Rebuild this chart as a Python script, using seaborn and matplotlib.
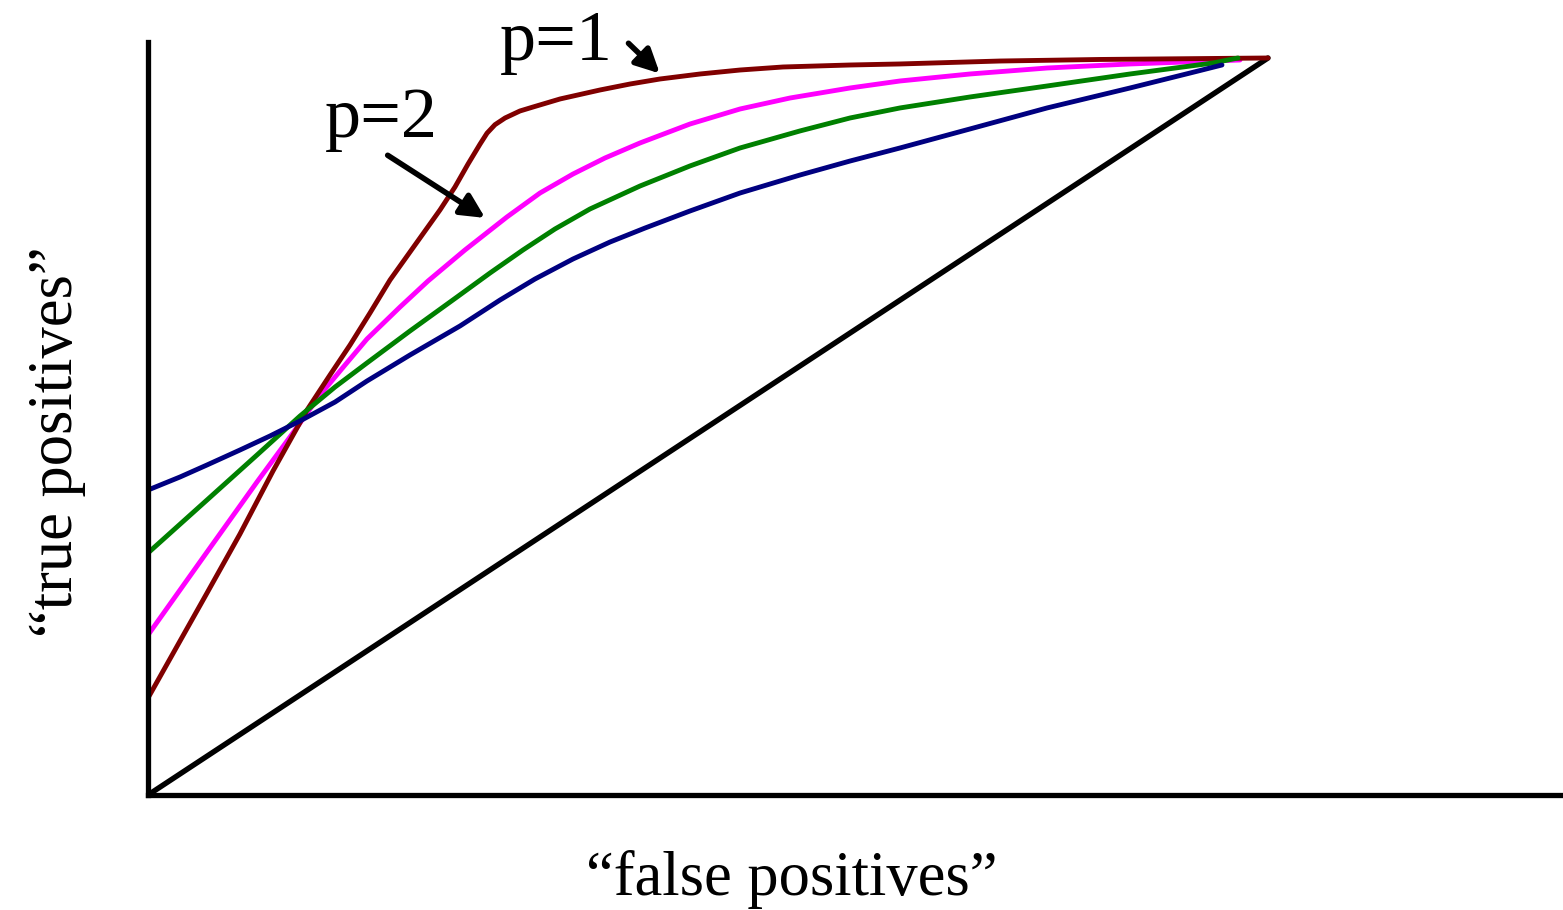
import matplotlib
matplotlib.use("Agg")
import matplotlib.pyplot as plt
import pandas as pd
import seaborn as sns

# ROC-style curves: fraction of false positives vs. fraction of true positives
fpr_p1 = [0.0000, 0.0286, 0.0527, 0.0821, 0.1116, 0.1420, 0.1625, 0.1804, 0.1982,
          0.2161, 0.2384, 0.2607, 0.2741, 0.2857, 0.2964, 0.3027, 0.3098, 0.3188,
          0.3321, 0.3438, 0.3679, 0.4036, 0.4304, 0.4571, 0.4929, 0.5286, 0.5670,
          0.6268, 0.6714, 0.7607, 0.8500, 1.0000]
tpr_p1 = [0.1316, 0.2090, 0.2741, 0.3541, 0.4396, 0.5224, 0.5699, 0.6106, 0.6540,
          0.6988, 0.7463, 0.7938, 0.8250, 0.8560, 0.8830, 0.8980, 0.9095, 0.9186,
          0.9281, 0.9335, 0.9444, 0.9566, 0.9647, 0.9715, 0.9783, 0.9837, 0.9878,
          0.9905, 0.9919, 0.9959, 0.9980, 1.0000]

fpr_p2 = [0.0000, 0.0527, 0.0973, 0.1268, 0.1536, 0.1759, 0.1955, 0.2250, 0.2500,
          0.2830, 0.3205, 0.3500, 0.3795, 0.4080, 0.4393, 0.4839, 0.5286, 0.5732,
          0.6268, 0.6714, 0.7339, 0.8027, 0.8768, 0.9509, 0.9750]
tpr_p2 = [0.2171, 0.3297, 0.4247, 0.4858, 0.5427, 0.5834, 0.6187, 0.6621, 0.6974,
          0.7395, 0.7843, 0.8168, 0.8426, 0.8643, 0.8847, 0.9104, 0.9308, 0.9457,
          0.9593, 0.9688, 0.9783, 0.9864, 0.9919, 0.9959, 0.9973]

fpr_p3 = [0.0000, 0.0527, 0.0973, 0.1357, 0.1670, 0.1955, 0.2339, 0.2759, 0.3054,
          0.3348, 0.3634, 0.3946, 0.4393, 0.4839, 0.5286, 0.5821, 0.6268, 0.6714,
          0.7339, 0.8027, 0.8768, 0.9509, 0.9732]
tpr_p3 = [0.3284, 0.4003, 0.4613, 0.5142, 0.5536, 0.5862, 0.6296, 0.6757, 0.7083,
          0.7395, 0.7680, 0.7951, 0.8263, 0.8535, 0.8779, 0.9010, 0.9186, 0.9322,
          0.9471, 0.9620, 0.9783, 0.9932, 1.0000]

fpr_p4 = [0.0000, 0.0286, 0.0527, 0.0821, 0.1089, 0.1357, 0.1670, 0.1955, 0.2339,
          0.2786, 0.3143, 0.3455, 0.3795, 0.4125, 0.4438, 0.4839, 0.5286, 0.5821,
          0.6268, 0.6714, 0.7339, 0.8027, 0.8768, 0.9304, 0.9589]
tpr_p4 = [0.4138, 0.4315, 0.4478, 0.4681, 0.4871, 0.5075, 0.5332, 0.5617, 0.5970,
          0.6364, 0.6716, 0.7001, 0.7273, 0.7503, 0.7693, 0.7924, 0.8168, 0.8412,
          0.8602, 0.8779, 0.9037, 0.9322, 0.9593, 0.9796, 0.9905]

chance_fpr = [0.0, 1.0]
chance_tpr = [0.0, 1.0]

curve_labels = ["p=1", "p=2", "p=3", "p=4"]
draw_order = ["p=2", "p=1", "p=3", "p=4"]
curve_colors = {"p=1": "#800000", "p=2": "#ff00ff", "p=3": "#008000", "p=4": "#000080"}

x_label = "\u201cfalse positives\u201d"
y_label = "\u201ctrue positives\u201d"

frames = []
for name, xs, ys in zip(curve_labels,
                        [fpr_p1, fpr_p2, fpr_p3, fpr_p4],
                        [tpr_p1, tpr_p2, tpr_p3, tpr_p4]):
    frames.append(pd.DataFrame({"fpr": xs, "tpr": ys, "curve": name}))
curves = pd.concat(frames, ignore_index=True)
chance = pd.DataFrame({"fpr": chance_fpr, "tpr": chance_tpr})

sns.set_style("white")
plt.rcParams["font.family"] = ["Liberation Serif", "DejaVu Serif"]
plt.rcParams["text.color"] = "black"
plt.rcParams["axes.labelcolor"] = "black"

W, H = 1563, 910
fig = plt.figure(figsize=(W / 100, H / 100), dpi=100)
ax = fig.add_axes([148 / W, 115 / H, 1415 / W, 753 / H])

sns.lineplot(data=chance, x="fpr", y="tpr", color="black", linewidth=3.9,
             estimator=None, sort=False, ax=ax, solid_capstyle="round")
sns.lineplot(data=curves, x="fpr", y="tpr", hue="curve", hue_order=draw_order,
             palette=curve_colors, linewidth=3.5, estimator=None, sort=False,
             legend=False, ax=ax, solid_capstyle="round", solid_joinstyle="round")

ax.set_xlim(0, 1.2634)
ax.set_ylim(0, 1.0217)
ax.set_xticks([])
ax.set_yticks([])
for side in ["top", "right"]:
    ax.spines[side].set_visible(False)
for side in ["left", "bottom"]:
    ax.spines[side].set_linewidth(3.8)
    ax.spines[side].set_color("black")
    ax.spines[side].set_capstyle("projecting")

# curve annotations
ax.text(0.314, 0.997, "p=1", fontsize=52, va="baseline", ha="left", color="black")
ax.annotate("", xy=(0.457, 0.979), xytext=(0.429, 1.020),
            arrowprops=dict(arrowstyle="-|>", lw=4, color="black",
                            mutation_scale=36, shrinkA=0, shrinkB=0))
ax.text(0.158, 0.893, "p=2", fontsize=52, va="baseline", ha="left", color="black")
ax.annotate("", xy=(0.301, 0.783), xytext=(0.214, 0.868),
            arrowprops=dict(arrowstyle="-|>", lw=4, color="black",
                            mutation_scale=36, shrinkA=0, shrinkB=0))

ax.set_xlabel(x_label, fontsize=45, color="black")
ax.xaxis.set_label_coords(792 / W, 15 / H, transform=fig.transFigure)
ax.xaxis.label.set_va("baseline")
ax.set_ylabel(y_label, fontsize=45, color="black")
ax.yaxis.set_label_coords(72 / W, 468 / H, transform=fig.transFigure)
ax.yaxis.label.set_va("baseline")

fig.savefig("out.png", dpi=100)
